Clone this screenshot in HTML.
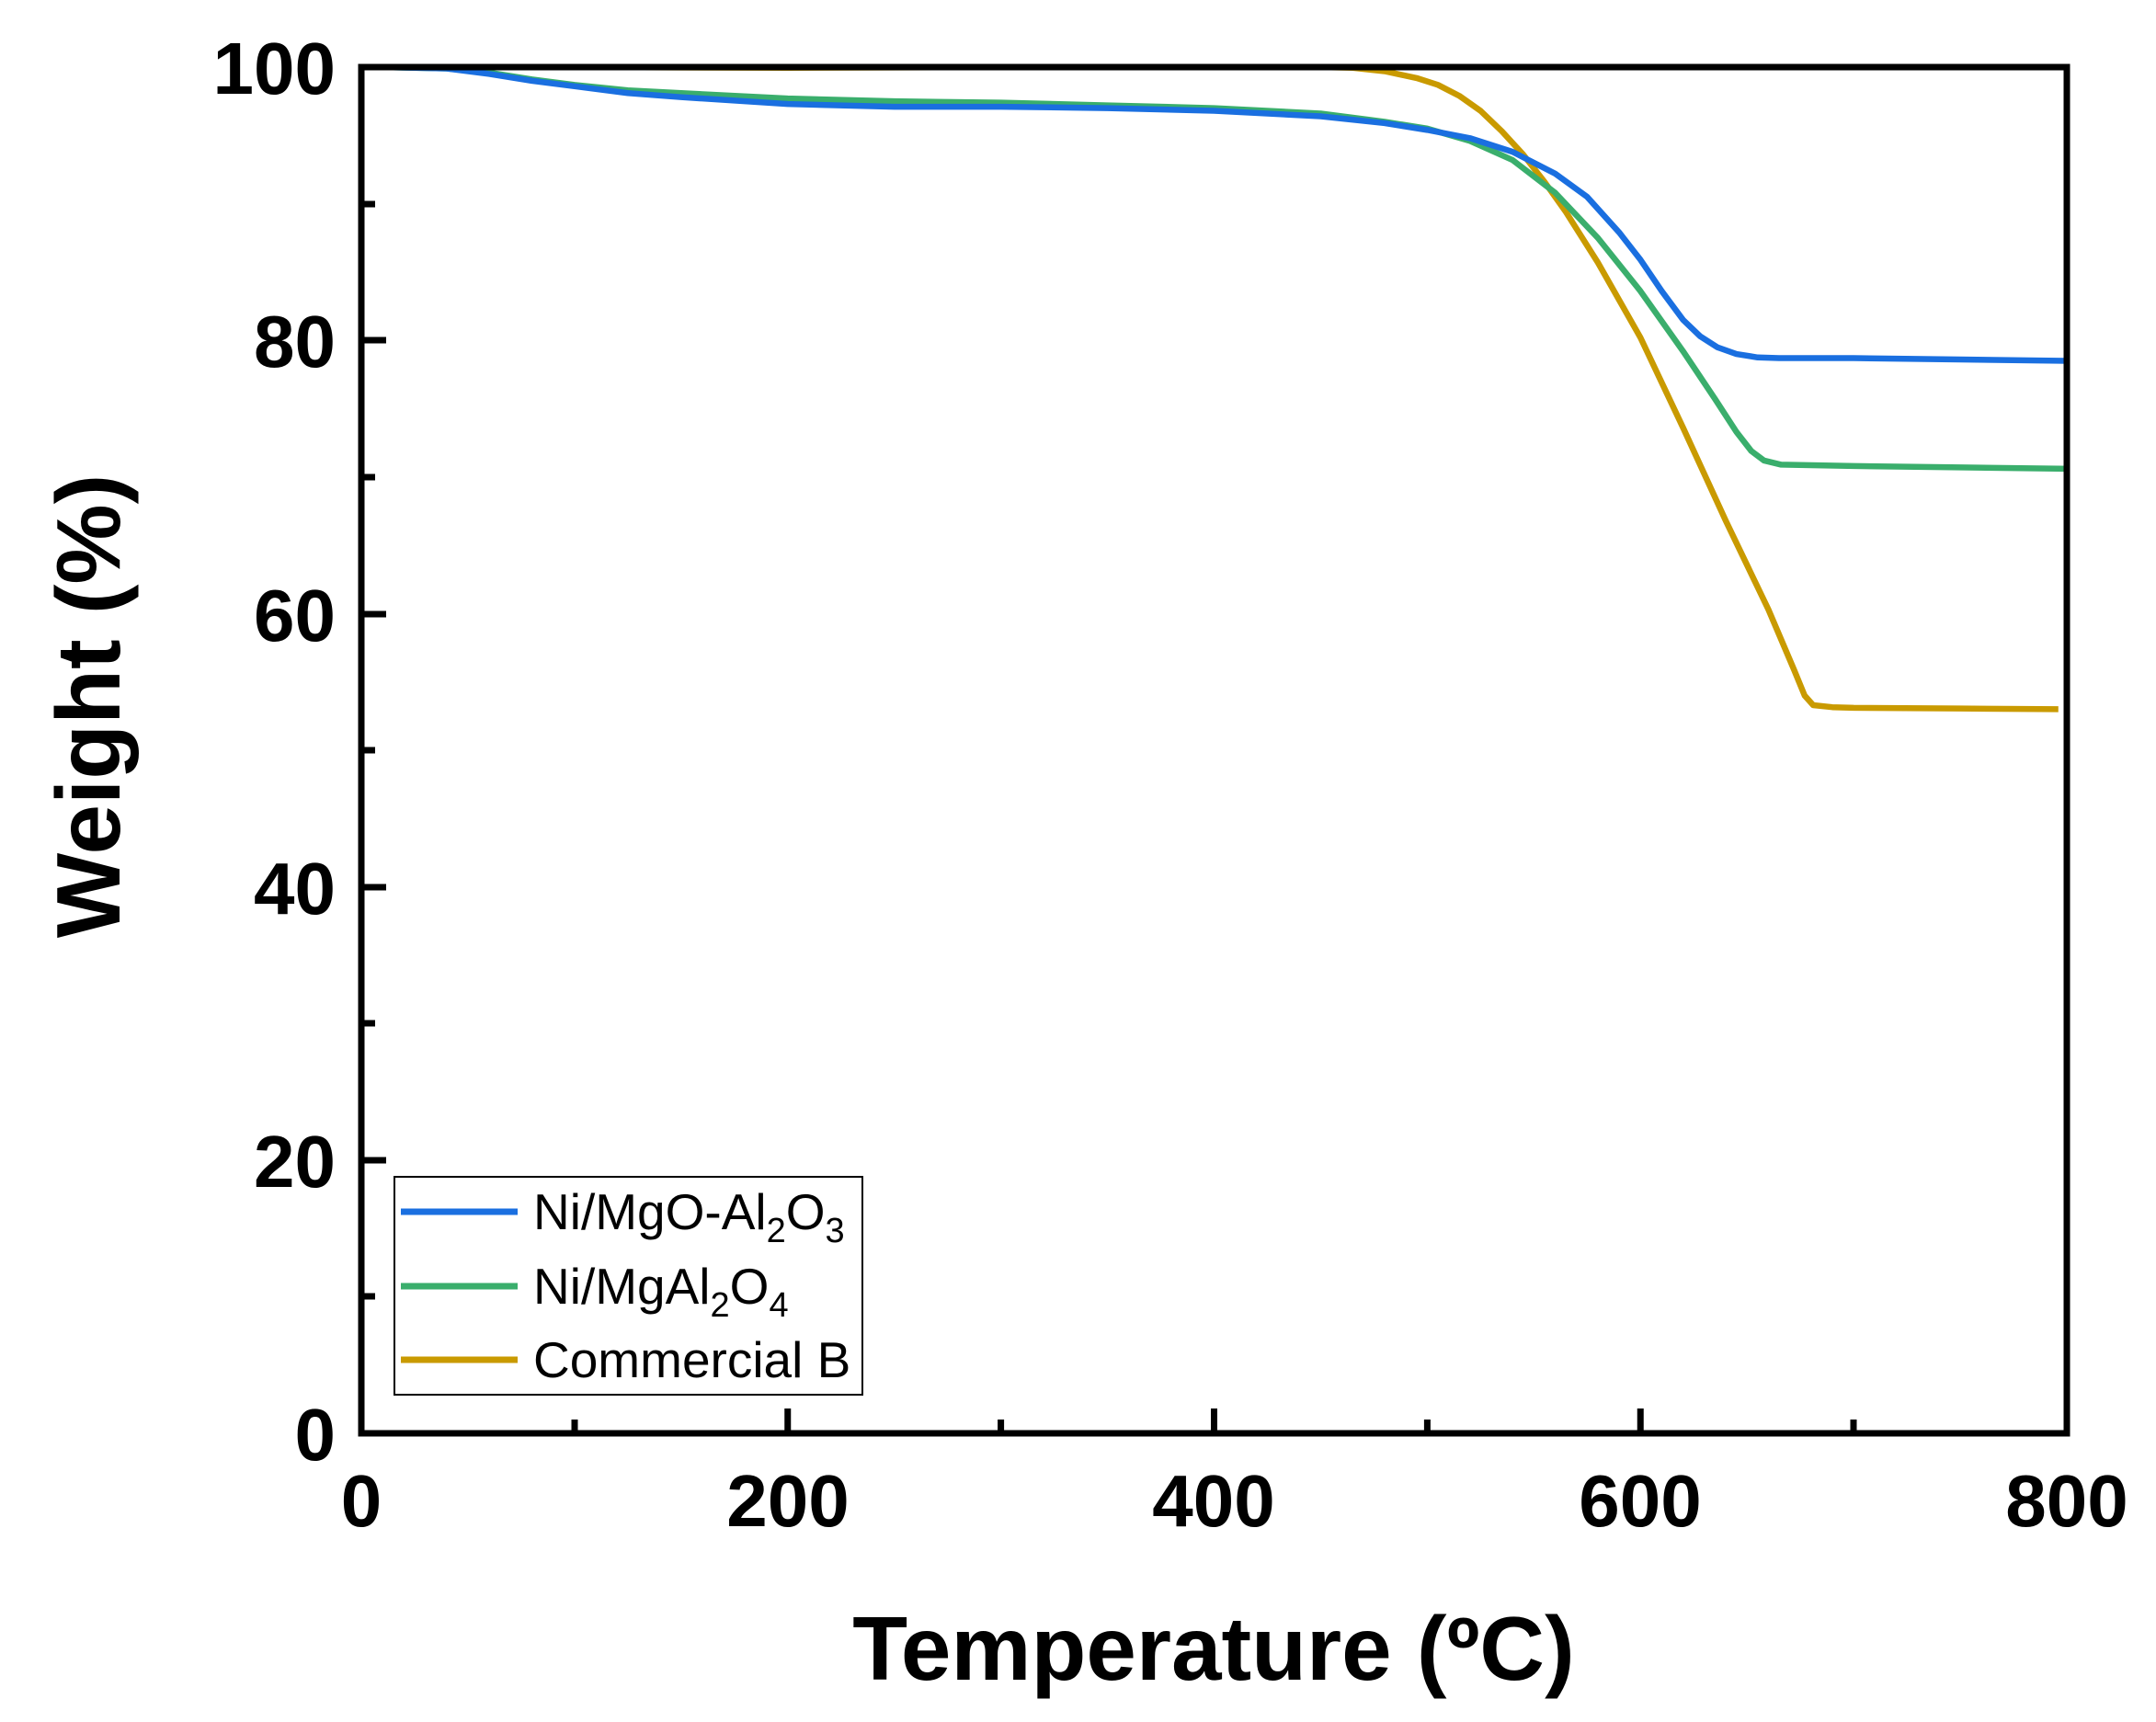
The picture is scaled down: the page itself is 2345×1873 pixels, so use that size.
<!DOCTYPE html>
<html><head><meta charset="utf-8"><style>
html,body{margin:0;padding:0;background:#fff;}
svg{display:block;}
</style></head><body>
<svg width="2345" height="1873" viewBox="0 0 2345 1873" xmlns="http://www.w3.org/2000/svg">
<rect width="2345" height="1873" fill="#fff"/>
<g transform="translate(393,1559) scale(2.3188,-14.86)" fill="none" stroke-linejoin="round">
<polyline vector-effect="non-scaling-stroke" stroke="#c99a00" stroke-width="6.5" points="10,100 100,100 200,99.95 300,100 400,100 450,100 465,99.95 480,99.7 495,99.2 505,98.7 515,97.9 525,96.8 535,95.3 545,93.6 555,91.6 565,89.4 580,85.7 600,80.2 620,73.6 640,66.8 660,60.3 672,55.9 677,54.0 681,53.3 690,53.15 700,53.1 750,53.05 796,53.0"/>
<polyline vector-effect="non-scaling-stroke" stroke="#3aae6c" stroke-width="6.5" points="10,100 40,99.9 60,99.6 80,99.1 100,98.7 125,98.3 150,98.1 200,97.7 250,97.5 300,97.4 350,97.2 400,97.0 450,96.6 480,96.0 500,95.5 520,94.6 540,93.2 560,90.8 580,87.5 600,83.6 620,79.2 635,75.7 645,73.3 652,71.9 658,71.2 666,70.9 700,70.8 750,70.7 800,70.6"/>
<polyline vector-effect="non-scaling-stroke" stroke="#1a6fe0" stroke-width="6.5" points="10,100 40,99.9 60,99.5 80,99.0 100,98.6 125,98.1 150,97.8 200,97.3 250,97.1 300,97.1 350,97.0 400,96.8 450,96.4 480,95.9 500,95.4 520,94.8 540,93.8 560,92.2 575,90.5 590,87.9 600,85.9 610,83.6 620,81.5 628,80.3 636,79.5 645,79.0 655,78.75 665,78.7 700,78.7 750,78.6 800,78.5"/>
</g>
<g stroke="#000" stroke-width="7" fill="none">
<rect x="393" y="73" width="1855" height="1486"/>
<path d="M393,1559v-27M856.75,1559v-27M1320.5,1559v-27M1784.25,1559v-27"/>
<path d="M625,1559v-15M1088.6,1559v-15M1552.4,1559v-15M2016,1559v-15"/>
<path d="M393,1262h27M393,965h27M393,668h27M393,370h27"/>
<path d="M393,1410h15M393,1113h15M393,816h15M393,519h15M393,222h15"/>
</g>
<g font-family="Liberation Sans, sans-serif" font-weight="bold" font-size="80" fill="#000">
<g text-anchor="end">
<text x="365" y="1588">0</text>
<text x="365" y="1291">20</text>
<text x="365" y="994">40</text>
<text x="365" y="697">60</text>
<text x="365" y="399">80</text>
<text x="365" y="102">100</text>
</g>
<g text-anchor="middle">
<text x="393" y="1660">0</text>
<text x="857" y="1660">200</text>
<text x="1320" y="1660">400</text>
<text x="1784" y="1660">600</text>
<text x="2248" y="1660">800</text>
</g>
<text x="1320" y="1827" text-anchor="middle" font-size="98">Temperature (ºC)</text>
<text transform="translate(130,768) rotate(-90)" text-anchor="middle" font-size="98">Weight (%)</text>
</g>
<rect x="429" y="1280" width="509" height="237" fill="#fff" stroke="#000" stroke-width="2"/>
<g stroke-width="7">
<line x1="436" y1="1318" x2="563" y2="1318" stroke="#1a6fe0"/>
<line x1="436" y1="1399" x2="563" y2="1399" stroke="#3aae6c"/>
<line x1="436" y1="1479" x2="563" y2="1479" stroke="#c99a00"/>
</g>
<g font-family="Liberation Sans, sans-serif" font-size="55" fill="#000">
<text x="580" y="1337">Ni/MgO-Al<tspan font-size="38" dy="14">2</tspan><tspan dy="-14">O</tspan><tspan font-size="38" dy="14">3</tspan></text>
<text x="580" y="1418">Ni/MgAl<tspan font-size="38" dy="14">2</tspan><tspan dy="-14">O</tspan><tspan font-size="38" dy="14">4</tspan></text>
<text x="580" y="1498">Commercial B</text>
</g>
</svg>
</body></html>
